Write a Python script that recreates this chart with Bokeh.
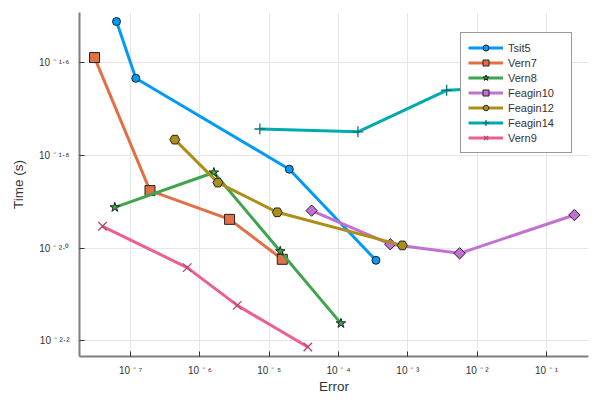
from bokeh.plotting import figure
from bokeh.models import Range1d, FixedTicker, CustomJSTickFormatter
from bokeh.embed import file_html
from bokeh.resources import INLINE

# ---- data ----
tsit5_err = [6.281e-8, 1.191e-7, 1.950e-5, 3.467e-4]
tsit5_time = [3.080e-2, 2.323e-2, 1.479e-2, 9.408e-3]

vern7_err = [3.027e-8, 1.910e-7, 2.685e-6, 1.545e-5]
vern7_time = [2.575e-2, 1.330e-2, 1.153e-2, 9.454e-3]

vern8_err = [5.929e-8, 1.592e-6, 1.445e-5, 1.084e-4]
vern8_time = [1.224e-2, 1.455e-2, 9.838e-3, 6.878e-3]

feagin10_err = [4.093e-5, 5.585e-4, 5.585e-3, 2.529e-1]
feagin10_time = [1.204e-2, 1.019e-2, 9.741e-3, 1.178e-2]

feagin12_err = [4.355e-7, 1.820e-6, 1.309e-5, 8.337e-4]
feagin12_time = [1.713e-2, 1.384e-2, 1.194e-2, 1.013e-2]

feagin14_err = [7.345e-6, 1.905e-4, 3.631e-3, 5.916e-2]
feagin14_time = [1.806e-2, 1.781e-2, 2.189e-2, 2.234e-2]

vern9_err = [3.945e-8, 6.577e-7, 3.467e-6, 3.614e-5]
vern9_time = [1.114e-2, 9.073e-3, 7.522e-3, 6.114e-3]

series_names = ["Tsit5", "Vern7", "Vern8", "Feagin10", "Feagin12", "Feagin14", "Vern9"]
x_ticks = [1e-7, 1e-6, 1e-5, 1e-4, 1e-3, 1e-2, 1e-1]
y_ticks = [10 ** -2.2, 10 ** -2.0, 10 ** -1.8, 10 ** -1.6]

series = [
    (tsit5_err, tsit5_time, "#009AFA", "circle", 8, "#222222", 0),
    (vern7_err, vern7_time, "#E36F47", "square", 10, "#222222", 0),
    (vern8_err, vern8_time, "#3EA44E", "star", 10, "#222222", 0),
    (feagin10_err, feagin10_time, "#C271D2", "square", 8, "#222222", 0.785398),
    (feagin12_err, feagin12_time, "#AC8E18", "hex", 10, "#222222", 0),
    (feagin14_err, feagin14_time, "#00AAAE", "cross", 11, "#00787b", 0),
    (vern9_err, vern9_time, "#ED5E93", "x", 12, "#b2456f", 0),
]

p = figure(
    width=600, height=400,
    x_axis_type="log", y_axis_type="log",
    x_range=Range1d(10 ** -7.736, 10 ** -0.394),
    y_range=Range1d(10 ** -2.234, 10 ** -1.492),
    output_backend="svg", toolbar_location=None,
    min_border_left=79, min_border_right=12, min_border_top=12, min_border_bottom=44,
)
p.outline_line_color = None
p.background_fill_color = "white"

for (xs, ys, col, mk, sz, lc, ang), name in zip(series, series_names):
    p.line(xs, ys, line_color=col, line_width=3, legend_label=name)
    if mk in ("cross", "x"):
        p.scatter(xs, ys, marker=mk, size=sz, line_color=lc, line_width=1.3,
                  legend_label=name)
    else:
        p.scatter(xs, ys, marker=mk, size=sz, fill_color=col, line_color=lc,
                  line_width=1, angle=ang, legend_label=name)

sup_js = """
const sup = {"0":"\u2070","1":"\u00b9","2":"\u00b2","3":"\u00b3","4":"\u2074","5":"\u2075",
             "6":"\u2076","7":"\u2077","8":"\u2078","9":"\u2079","-":"\u207b ",".":"\u00b7"};
const e = Math.log10(tick);
const s = e.toFixed(DEC);
let out = "";
for (const c of s) { out += sup[c]; }
return "10 " + out;
"""

p.xaxis.ticker = FixedTicker(ticks=x_ticks)
p.yaxis.ticker = FixedTicker(ticks=y_ticks)
p.xgrid.ticker = FixedTicker(ticks=x_ticks)
p.ygrid.ticker = FixedTicker(ticks=y_ticks)
p.xaxis.formatter = CustomJSTickFormatter(code=sup_js.replace("DEC", "0"))
p.yaxis.formatter = CustomJSTickFormatter(code=sup_js.replace("DEC", "1"))

for ax in (p.xaxis, p.yaxis):
    ax.axis_line_color = "#7f7f7f"
    ax.axis_line_width = 2
    ax.major_tick_line_color = "#333333"
    ax.major_tick_line_width = 1
    ax.major_tick_in = 5
    ax.major_tick_out = 0
    ax.minor_tick_line_color = None
    ax.major_label_text_font = "Liberation Sans"
    ax.major_label_text_font_size = "10px"
    ax.major_label_text_color = "#333333"
    ax.axis_label_text_font = "Liberation Sans"
    ax.axis_label_text_font_size = "13.5px"
    ax.axis_label_text_font_style = "normal"
    ax.axis_label_text_color = "#333333"

p.xaxis.axis_label = "Error"
p.yaxis.axis_label = "Time (s)"
p.xaxis.major_label_standoff = 8
p.yaxis.major_label_standoff = 10
p.xaxis.axis_label_standoff = 0
p.yaxis.axis_label_standoff = 10

p.grid.grid_line_color = "#e6e6e6"
p.grid.grid_line_width = 1

lg = p.legend[0]
lg.location = (381, 203)
lg.border_line_color = "#333333"
lg.border_line_width = 1
lg.background_fill_color = "white"
lg.background_fill_alpha = 1.0
lg.label_text_font = "Liberation Sans"
lg.label_text_font_size = "11px"
lg.label_text_color = "#333333"
lg.glyph_width = 35
lg.glyph_height = 15
lg.label_height = 15
lg.label_width = 56
lg.label_standoff = 5
lg.spacing = 0
lg.padding = 7
lg.margin = 0

open("out.html", "w").write(file_html(p, INLINE))
